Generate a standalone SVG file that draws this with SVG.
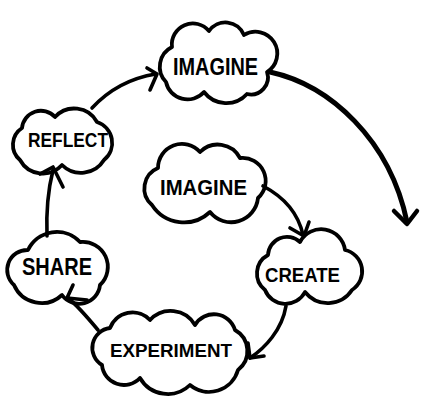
<svg xmlns="http://www.w3.org/2000/svg" width="426" height="406" viewBox="0 0 426 406">
<style>
.cloud{fill:#fff;stroke:#000;stroke-width:3.8;stroke-linejoin:round;stroke-linecap:round}
.lbl{font-family:"Liberation Sans",Arial,sans-serif;font-weight:bold;fill:#000}
.c{fill:none;stroke:#000;stroke-width:3.6;stroke-linecap:round;stroke-linejoin:round}
</style>
<rect width="426" height="406" fill="#fff"/>
<g id="imagine-top">
<path class="cloud" d="M 166 82 A 22 22 0 0 1 172 47 A 21 21 0 0 1 209 31 A 20 20 0 0 1 244 35 A 20 20 0 0 1 267 72 A 17 17 0 0 1 247 94 A 28 28 0 0 1 204 92 A 22 22 0 0 1 166 82 Z"/>
<text class="lbl" x="173" y="75" font-size="23" textLength="85" lengthAdjust="spacingAndGlyphs">IMAGINE</text>
</g>
<g id="reflect">
<path class="cloud" d="M 20 160 A 20 20 0 0 1 22 128 A 19 19 0 0 1 55 117 A 26 26 0 0 1 97 122 A 22 22 0 0 1 104 160 A 27 27 0 0 1 62 165 A 26 26 0 0 1 20 160 Z"/>
<text class="lbl" x="28" y="147" font-size="20" textLength="80" lengthAdjust="spacingAndGlyphs">REFLECT</text>
</g>
<g id="share">
<path class="cloud" d="M 14 285 A 20 20 0 0 1 28 250 A 32 32 0 0 1 80 242 A 25 25 0 0 1 100 285 A 21 21 0 0 1 62 295 A 30 30 0 0 1 14 285 Z"/>
<text class="lbl" x="22" y="275" font-size="23" textLength="70" lengthAdjust="spacingAndGlyphs">SHARE</text>
</g>
<g id="experiment">
<path class="cloud" d="M 102 365 A 20 20 0 0 1 110 328 A 24 24 0 0 1 150 320 A 28 28 0 0 1 195 325 A 22 22 0 0 1 235 330 A 24 24 0 0 1 238 370 A 30 30 0 0 1 190 385 A 32 32 0 0 1 140 378 A 22 22 0 0 1 102 365 Z"/>
<text class="lbl" x="110" y="357" font-size="19" textLength="122" lengthAdjust="spacingAndGlyphs">EXPERIMENT</text>
</g>
<g id="create">
<path class="cloud" d="M 265 290 A 21 21 0 0 1 268 255 A 19 19 0 0 1 300 242 A 24 24 0 0 1 345 250 A 22 22 0 0 1 352 290 A 29 29 0 0 1 305 292 A 22 22 0 0 1 265 290 Z"/>
<text class="lbl" x="265" y="282" font-size="20" textLength="75" lengthAdjust="spacingAndGlyphs">CREATE</text>
</g>
<g id="imagine-inner">
<path class="cloud" d="M 152 205 A 22 22 0 0 1 158 168 A 24 24 0 0 1 200 152 A 25 25 0 0 1 240 158 A 23 23 0 0 1 258 198 A 27 27 0 0 1 210 212 A 38 38 0 0 1 152 205 Z"/>
<text class="lbl" x="160" y="195" font-size="22" textLength="87" lengthAdjust="spacingAndGlyphs">IMAGINE</text>
</g>
<g id="connectors">
<path class="c" d="M 92 108 Q 118 80 156 74"/>
<path class="c" d="M 147 68 L 157 74 L 150 90"/>
<path class="c" style="stroke-width:5" d="M 270 72 C 330 85 390 140 407 222"/>
<path class="c" style="stroke-width:4.5" d="M 394 211 L 407 224 L 417 211"/>
<path class="c" d="M 263 186 C 282 196 298 212 303 235"/>
<path class="c" d="M 290 228 L 304 236 L 309 222"/>
<path class="c" d="M 286 306 C 282 330 265 348 250 358"/>
<path class="c" d="M 248 343 L 250 358 L 264 356"/>
<path class="c" d="M 98 330 C 88 318 78 306 68 298"/>
<path class="c" d="M 73 285 L 67 298 L 87 300"/>
<path class="c" d="M 47 236 C 46 210 48 190 53 170"/>
<path class="c" d="M 40 174 L 53 167 L 63 187"/>
</g>
</svg>
